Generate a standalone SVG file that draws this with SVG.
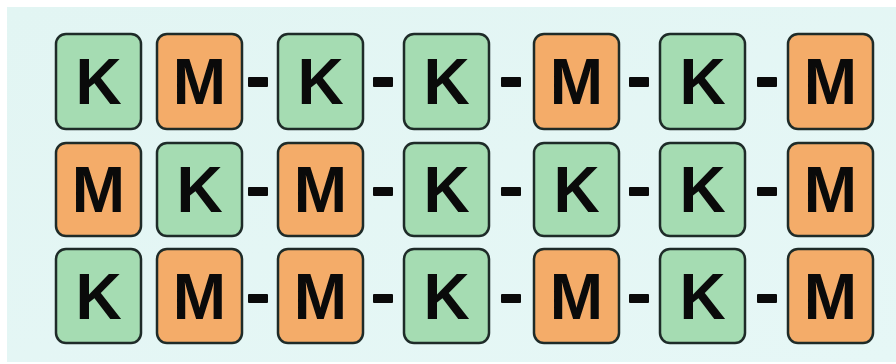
<svg xmlns="http://www.w3.org/2000/svg" width="896" height="364" viewBox="0 0 896 364">
<defs>
<style>
.k{fill:#a5dcb2;stroke:#1e2b28;stroke-width:2.5}
.m{fill:#f4ac69;stroke:#1e2b28;stroke-width:2.5}
.t{font-family:"Liberation Sans",Arial,sans-serif;font-weight:bold;font-size:64px;fill:#0a0a0a;text-anchor:middle}
.d{fill:#0a0a0a}
</style>
<linearGradient id="bg" x1="0" y1="0" x2="1" y2="1">
<stop offset="0" stop-color="#e2f5f3"/>
<stop offset="1" stop-color="#e6f7f6"/>
</linearGradient>
</defs>
<rect width="896" height="364" fill="#ffffff"/>
<rect x="7" y="7" width="889" height="355" fill="url(#bg)"/>
<g id="row1">
<g id="r1c1"><rect class="k" x="56" y="34" width="85" height="95" rx="10"/><text class="t" x="98.5" y="104">K</text></g>
<g id="r1c2"><rect class="m" x="157" y="34" width="85" height="95" rx="10"/><text class="t" x="199.5" y="104">M</text></g>
<g id="r1c3"><rect class="k" x="278" y="34" width="85" height="95" rx="10"/><text class="t" x="320.5" y="104">K</text></g>
<g id="r1c4"><rect class="k" x="404" y="34" width="85" height="95" rx="10"/><text class="t" x="446.5" y="104">K</text></g>
<g id="r1c5"><rect class="m" x="534" y="34" width="85" height="95" rx="10"/><text class="t" x="576.5" y="104">M</text></g>
<g id="r1c6"><rect class="k" x="660" y="34" width="85" height="95" rx="10"/><text class="t" x="702.5" y="104">K</text></g>
<g id="r1c7"><rect class="m" x="788" y="34" width="85" height="95" rx="10"/><text class="t" x="830.5" y="104">M</text></g>
</g>
<g id="row2">
<g id="r2c1"><rect class="m" x="56" y="143" width="85" height="93" rx="10"/><text class="t" x="98.5" y="212">M</text></g>
<g id="r2c2"><rect class="k" x="157" y="143" width="85" height="93" rx="10"/><text class="t" x="199.5" y="212">K</text></g>
<g id="r2c3"><rect class="m" x="278" y="143" width="85" height="93" rx="10"/><text class="t" x="320.5" y="212">M</text></g>
<g id="r2c4"><rect class="k" x="404" y="143" width="85" height="93" rx="10"/><text class="t" x="446.5" y="212">K</text></g>
<g id="r2c5"><rect class="k" x="534" y="143" width="85" height="93" rx="10"/><text class="t" x="576.5" y="212">K</text></g>
<g id="r2c6"><rect class="k" x="660" y="143" width="85" height="93" rx="10"/><text class="t" x="702.5" y="212">K</text></g>
<g id="r2c7"><rect class="m" x="788" y="143" width="85" height="93" rx="10"/><text class="t" x="830.5" y="212">M</text></g>
</g>
<g id="row3">
<g id="r3c1"><rect class="k" x="56" y="249" width="85" height="94" rx="10"/><text class="t" x="98.5" y="319">K</text></g>
<g id="r3c2"><rect class="m" x="157" y="249" width="85" height="94" rx="10"/><text class="t" x="199.5" y="319">M</text></g>
<g id="r3c3"><rect class="m" x="278" y="249" width="85" height="94" rx="10"/><text class="t" x="320.5" y="319">M</text></g>
<g id="r3c4"><rect class="k" x="404" y="249" width="85" height="94" rx="10"/><text class="t" x="446.5" y="319">K</text></g>
<g id="r3c5"><rect class="m" x="534" y="249" width="85" height="94" rx="10"/><text class="t" x="576.5" y="319">M</text></g>
<g id="r3c6"><rect class="k" x="660" y="249" width="85" height="94" rx="10"/><text class="t" x="702.5" y="319">K</text></g>
<g id="r3c7"><rect class="m" x="788" y="249" width="85" height="94" rx="10"/><text class="t" x="830.5" y="319">M</text></g>
</g>
<g id="connectors">
<rect class="d" x="248" y="77" width="20" height="10" rx="1"/>
<rect class="d" x="373" y="77" width="20" height="10" rx="1"/>
<rect class="d" x="501" y="77" width="20" height="10" rx="1"/>
<rect class="d" x="629" y="77" width="20" height="10" rx="1"/>
<rect class="d" x="757" y="77" width="20" height="10" rx="1"/>
<rect class="d" x="248" y="187" width="20" height="9" rx="1"/>
<rect class="d" x="373" y="187" width="20" height="9" rx="1"/>
<rect class="d" x="501" y="187" width="20" height="9" rx="1"/>
<rect class="d" x="629" y="187" width="20" height="9" rx="1"/>
<rect class="d" x="757" y="187" width="20" height="9" rx="1"/>
<rect class="d" x="248" y="294" width="20" height="9" rx="1"/>
<rect class="d" x="373" y="294" width="20" height="9" rx="1"/>
<rect class="d" x="501" y="294" width="20" height="9" rx="1"/>
<rect class="d" x="629" y="294" width="20" height="9" rx="1"/>
<rect class="d" x="757" y="294" width="20" height="9" rx="1"/>
</g>
</svg>
